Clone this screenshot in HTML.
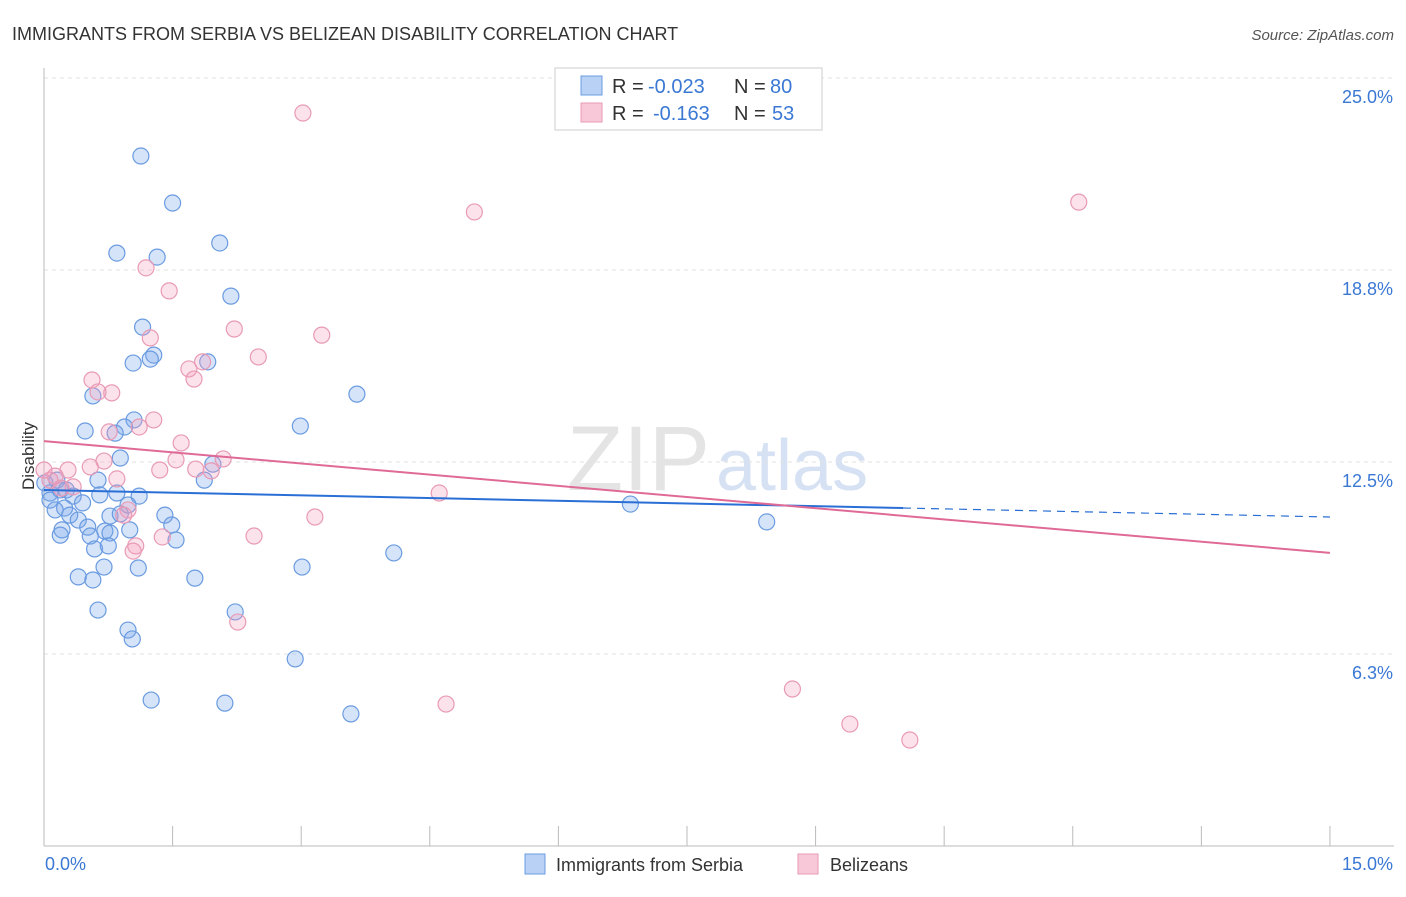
<!DOCTYPE html>
<html><head><meta charset="utf-8"><style>
body{margin:0;background:#fff;font-family:"Liberation Sans",sans-serif;}
svg text{font-family:"Liberation Sans",sans-serif;}
</style></head><body>
<svg id="chart" width="1406" height="892">
<text x="12" y="40" font-size="18" fill="#333">IMMIGRANTS FROM SERBIA VS BELIZEAN DISABILITY CORRELATION CHART</text>
<text x="1394" y="40" font-size="15" fill="#555" font-style="italic" text-anchor="end">Source: ZipAtlas.com</text>
<text x="710" y="490" font-size="92" fill="#e4e4e4" text-anchor="end" font-family="Liberation Serif">ZIP</text>
<text x="716" y="490" font-size="72" fill="#d6e2f3">atlas</text>
<text x="34" y="456" font-size="17" fill="#333" text-anchor="middle" transform="rotate(-90 34 456)">Disability</text>
<g id="grid"></g><g id="ticks"></g><g id="pts"></g><g id="lines"></g>
<rect x="555" y="68" width="267" height="62" fill="#fff" stroke="#ccc"/>
<rect x="581" y="76" width="21" height="19" fill="#b8d1f5" stroke="#6a9be0"/>
<rect x="581" y="103" width="21" height="19" fill="#f9c8d8" stroke="#e89ab5"/>
<g font-size="20" fill="#333">
<text x="612" y="93">R =</text><text x="648" y="93" fill="#3a78d4">-0.023</text><text x="734" y="93">N =</text><text x="770" y="93" fill="#3a78d4">80</text>
</g>
<g font-size="20" fill="#333">
<text x="612" y="120">R =</text><text x="653" y="120" fill="#3a78d4">-0.163</text><text x="734" y="120">N =</text><text x="772" y="120" fill="#3a78d4">53</text>
</g>
<rect x="525" y="854" width="20" height="20" fill="#b8d1f5" stroke="#6a9be0"/>
<text x="556" y="871" font-size="18" fill="#333">Immigrants from Serbia</text>
<rect x="798" y="854" width="20" height="20" fill="#f9c8d8" stroke="#e89ab5"/>
<text x="830" y="871" font-size="18" fill="#333">Belizeans</text>
<text x="45" y="870" font-size="18" fill="#3a78d4">0.0%</text>
<text x="1393" y="870" font-size="18" fill="#3a78d4" text-anchor="end">15.0%</text>
</svg>
<script>
const blueX=[1.13,1.50,0.85,1.32,2.05,2.18,1.15,1.28,1.04,1.24,1.91,0.57,3.65,1.05,0.94,0.83,0.48,2.99,0.89,1.97,1.87,0.63,0.19,0.34,0.65,0.85,1.11,0.07,0.24,0.45,0.13,0.30,0.40,0.77,0.89,0.98,1.41,1.49,0.21,0.51,0.71,1.00,0.54,0.77,1.54,0.59,0.75,0.19,1.10,0.70,0.40,0.57,1.76,3.01,4.08,6.84,8.43,0.63,2.23,0.98,1.03,2.93,1.25,2.11,3.58,0.07,0.15,0.01,0.26];
const blueY=[22.46,20.93,19.30,19.17,19.63,17.90,16.89,15.98,15.72,15.85,15.76,14.65,14.71,13.87,13.64,13.44,13.51,13.67,12.63,12.43,11.91,11.91,11.59,11.39,11.43,11.49,11.39,11.49,11.00,11.17,10.94,10.77,10.61,10.74,10.81,11.10,10.77,10.45,10.29,10.38,10.25,10.29,10.09,10.19,9.96,9.67,9.77,10.12,9.05,9.08,8.76,8.66,8.72,9.08,9.54,11.13,10.55,7.68,7.62,7.03,6.74,6.09,4.75,4.65,4.30,11.26,11.91,11.82,11.59];
const pinkX=[3.02,5.02,12.07,1.19,1.46,2.22,3.24,1.24,2.50,1.85,1.69,1.75,0.56,0.79,0.63,1.28,1.11,0.76,1.60,1.54,0.70,0.54,0.28,2.09,1.77,1.35,1.95,0.13,0.34,0.07,0.85,0.20,0.98,0.93,4.61,3.16,2.45,1.38,1.07,1.04,2.26,8.73,4.69,9.40,10.10,0.00];
const pinkY=[23.86,20.64,20.96,18.82,18.07,16.83,16.63,16.54,15.92,15.76,15.53,15.20,15.17,14.75,14.78,13.87,13.64,13.48,13.12,12.57,12.53,12.34,12.24,12.60,12.27,12.24,12.21,12.04,11.69,11.91,11.95,11.65,10.94,10.77,11.49,10.71,10.09,10.06,9.77,9.60,7.29,5.11,4.62,3.97,3.45,12.24];
const yTicks=[25.0,18.75,12.5,6.25];
const yTickLabels=["25.0%","18.8%","12.5%","6.3%"];
const xTicks=[0,1.5,3,4.5,6,7.5,9,10.5,12,13.5,15];
const blueTrend=[11.59,10.71];
const pinkTrend=[13.18,9.54];
const blueSolidEnd=10.02;

const NS="http://www.w3.org/2000/svg";
const X=v=>44+v*85.73;
const Y=v=>846-v*30.72;
function mk(tag,attrs,parent){const e=document.createElementNS(NS,tag);for(const k in attrs)e.setAttribute(k,attrs[k]);document.getElementById(parent).appendChild(e);return e;}
yTicks.forEach((t,i)=>{
  const yy=Y(t);
  const l=mk('line',{x1:44,x2:1394,y1:yy,y2:yy,stroke:'#e2e2e2','stroke-dasharray':'4,4'},'grid');
  
  
  const tx=mk('text',{x:1393,y:yy+25,'font-size':18,fill:'#3a78d4','text-anchor':'end'},'grid');
  tx.textContent=yTickLabels[i];
  
  
});
const ax=mk('line',{x1:44,x2:44,y1:68,y2:846,stroke:'#bbb'},'ticks');


const bx=mk('line',{x1:44,x2:1394,y1:846,y2:846,stroke:'#bbb'},'ticks');


xTicks.forEach(t=>{
  const l=mk('line',{x1:X(t),x2:X(t),y1:826,y2:846,stroke:'#bbb'},'ticks');
  
  
});
blueX.forEach((v,i)=>{
  const c=mk('circle',{cx:X(v),cy:Y(blueY[i]),r:8,fill:'rgba(120,165,235,0.3)',stroke:'#6a9be0','stroke-width':1.2},'pts');
  
  
});
pinkX.forEach((v,i)=>{
  const c=mk('circle',{cx:X(v),cy:Y(pinkY[i]),r:8,fill:'rgba(245,160,190,0.3)',stroke:'#e89ab5','stroke-width':1.2},'pts');
  
  
});
const bAt=x=>blueTrend[0]+(blueTrend[1]-blueTrend[0])*x/15;
const l1=mk('line',{x1:X(0),y1:Y(bAt(0)),x2:X(blueSolidEnd),y2:Y(bAt(blueSolidEnd)),stroke:'#2a6fd6','stroke-width':2},'lines');


const l2=mk('line',{x1:X(blueSolidEnd),y1:Y(bAt(blueSolidEnd)),x2:X(15),y2:Y(bAt(15)),stroke:'#2a6fd6','stroke-width':1.2,'stroke-dasharray':'8,6'},'lines');


const l3=mk('line',{x1:X(0),y1:Y(pinkTrend[0]),x2:X(15),y2:Y(pinkTrend[1]),stroke:'#e06a96','stroke-width':2},'lines');


</script>
</body></html>
